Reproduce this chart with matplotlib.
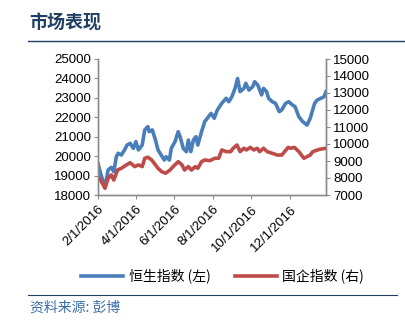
import matplotlib
matplotlib.use("Agg")
import matplotlib.pyplot as plt
import matplotlib.dates as mdates
from matplotlib.lines import Line2D
from datetime import datetime

# Hang Seng Index (left axis)
hsi_dates = [
    "2016-02-01", "2016-02-05", "2016-02-12", "2016-02-17", "2016-02-22", "2016-02-26",
    "2016-03-01", "2016-03-04", "2016-03-09", "2016-03-14", "2016-03-18", "2016-03-23",
    "2016-03-28", "2016-04-01", "2016-04-05", "2016-04-11", "2016-04-15", "2016-04-20",
    "2016-04-22", "2016-04-27", "2016-05-02", "2016-05-06", "2016-05-11", "2016-05-16",
    "2016-05-19", "2016-05-24", "2016-05-27", "2016-06-02", "2016-06-07", "2016-06-10",
    "2016-06-15", "2016-06-20", "2016-06-23", "2016-06-27", "2016-07-01", "2016-07-05",
    "2016-07-08", "2016-07-14", "2016-07-19", "2016-07-25", "2016-07-29", "2016-08-03",
    "2016-08-08", "2016-08-15", "2016-08-22", "2016-08-26", "2016-08-31", "2016-09-05",
    "2016-09-09", "2016-09-13", "2016-09-19", "2016-09-22", "2016-09-27", "2016-10-03",
    "2016-10-06", "2016-10-11", "2016-10-17", "2016-10-20", "2016-10-25", "2016-10-28",
    "2016-11-03", "2016-11-08", "2016-11-14", "2016-11-18", "2016-11-24", "2016-11-29",
    "2016-12-05", "2016-12-09", "2016-12-15", "2016-12-21", "2016-12-28", "2017-01-02",
    "2017-01-09", "2017-01-13", "2017-01-19", "2017-01-24", "2017-01-27",
]
hsi_values = [
    19630, 19120, 18400, 19290, 19420, 19200,
    19970, 20150, 20060, 20320, 20570, 20660,
    20400, 20750, 20320, 20570, 21350, 21520,
    21260, 21350, 20830, 20320, 20060, 19800,
    19970, 19800, 20400, 20750, 21260, 21000,
    20400, 20230, 20830, 20230, 20830, 21000,
    20570, 21260, 21780, 22030, 22200, 21950,
    22380, 22720, 22980, 22800, 23060, 23490,
    24000, 23320, 23490, 23750, 23400, 23580,
    23830, 23660, 23150, 23490, 23320, 22980,
    22800, 22720, 22290, 22380, 22720, 22800,
    22630, 22550, 22030, 21780, 21600, 21950,
    22720, 22890, 22980, 23060, 23320,
]

# Hang Seng China Enterprises Index (right axis)
hscei_dates = [
    "2016-02-01", "2016-02-05", "2016-02-12", "2016-02-17", "2016-02-22", "2016-02-26",
    "2016-03-03", "2016-03-09", "2016-03-17", "2016-03-23", "2016-03-30", "2016-04-05",
    "2016-04-11", "2016-04-15", "2016-04-20", "2016-04-26", "2016-05-02", "2016-05-06",
    "2016-05-12", "2016-05-18", "2016-05-25", "2016-05-30", "2016-06-07", "2016-06-13",
    "2016-06-17", "2016-06-23", "2016-06-28", "2016-07-04", "2016-07-08", "2016-07-14",
    "2016-07-19", "2016-07-27", "2016-08-04", "2016-08-10", "2016-08-15", "2016-08-22",
    "2016-08-29", "2016-09-02", "2016-09-08", "2016-09-13", "2016-09-19", "2016-09-23",
    "2016-09-29", "2016-10-05", "2016-10-10", "2016-10-14", "2016-10-20", "2016-10-26",
    "2016-11-03", "2016-11-11", "2016-11-18", "2016-11-28", "2016-12-02", "2016-12-08",
    "2016-12-15", "2016-12-23", "2017-01-02", "2017-01-06", "2017-01-17", "2017-01-27",
]
hscei_values = [
    8080, 7880, 7400, 7980, 8180, 7880,
    8470, 8570, 8770, 8900, 8670, 8770,
    8670, 9160, 9220, 9060, 8770, 8570,
    8370, 8280, 8470, 8670, 8960, 8770,
    8470, 8670, 8470, 8670, 8570, 8960,
    9060, 9020, 9160, 9160, 9650, 9550,
    9550, 9750, 9940, 9550, 9750, 9650,
    9800, 9650, 9750, 9550, 9750, 9550,
    9450, 9350, 9350, 9800, 9750, 9800,
    9550, 9160, 9350, 9550, 9690, 9750,
]

tick_dates = ["2016-02-01", "2016-04-01", "2016-06-01", "2016-08-01", "2016-10-01", "2016-12-01"]
left_ticks = list(range(18000, 25001, 1000))
right_ticks = list(range(7000, 15001, 1000))

title = "市场表现"
source = "资料来源: 彭博"
hsi_label = "恒生指数 (左)"
hscei_label = "国企指数 (右)"

BLUE = "#4a7ebb"
RED = "#be4b48"
NAVY = "#1f3f63"
GRAY = "#8c8c8c"

plt.rcParams["font.family"] = ["Liberation Sans", "Noto Sans CJK SC", "DejaVu Sans"]
cjk = ["Noto Sans CJK SC", "DejaVu Sans"]


def to_dt(s):
    return datetime.strptime(s, "%Y-%m-%d")


hsi_x = [to_dt(d) for d in hsi_dates]
hscei_x = [to_dt(d) for d in hscei_dates]

fig = plt.figure(figsize=(4.05, 3.27), dpi=100)
ax = fig.add_axes([98 / 405, 1 - 195 / 327, (326 - 98) / 405, (195 - 59) / 327])
ax2 = ax.twinx()

ax.plot(hsi_x, hsi_values, color=BLUE, lw=2.6, solid_joinstyle="round")
ax2.plot(hscei_x, hscei_values, color=RED, lw=2.6, solid_joinstyle="round")

ax.set_xlim(hsi_x[0], hsi_x[-1])
ax.set_ylim(left_ticks[0], left_ticks[-1])
ax2.set_ylim(right_ticks[0], right_ticks[-1])
ax.set_yticks(left_ticks)
ax2.set_yticks(right_ticks)

ax.set_xticks([to_dt(d) for d in tick_dates])
ax.xaxis.set_major_formatter(
    plt.FuncFormatter(lambda v, _: (lambda d: f"{d.month}/{d.day}/{d.year}")(mdates.num2date(v)))
)
for lbl in ax.get_xticklabels():
    lbl.set_rotation(45)
    lbl.set_ha("right")
    lbl.set_rotation_mode("anchor")

for a in (ax, ax2):
    a.spines["top"].set_visible(False)
    for side in ("left", "right", "bottom"):
        a.spines[side].set_color(GRAY)
        a.spines[side].set_linewidth(1.0)
    a.tick_params(axis="both", colors=GRAY, labelcolor="black", labelsize=9.5,
                  length=3, width=0.8, direction="out", pad=2)
ax.tick_params(axis="x", pad=3)

# legend below the plot
handles = [Line2D([], [], color=BLUE, lw=2.6), Line2D([], [], color=RED, lw=2.6)]
fig.legend(handles, [hsi_label, hscei_label], loc="center", bbox_to_anchor=(0.55, 1 - 276 / 327),
           ncol=2, frameon=False, prop={"family": cjk, "size": 10},
           handlelength=3.0, handletextpad=0.4, columnspacing=1.8)

# header and footer
fig.text(29 / 405, 1 - 23 / 327, title, fontsize=13, fontweight="bold", color=NAVY,
         family=cjk, va="center", ha="left")
fig.add_artist(Line2D([28 / 405, 1.0], [1 - 41 / 327] * 2, color=NAVY, lw=1.0))
fig.add_artist(Line2D([28 / 405, 397 / 405], [1 - 295 / 327] * 2, color=NAVY, lw=0.8))
fig.text(30 / 405, 1 - 308 / 327, source, fontsize=10, style="italic", color="#3a6ea5",
         family=cjk, va="center", ha="left")

fig.savefig("out.png", dpi=100)
